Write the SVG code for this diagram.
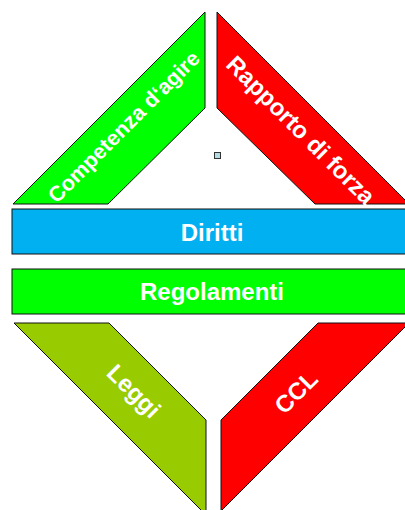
<svg xmlns="http://www.w3.org/2000/svg" width="405" height="510" viewBox="0 0 405 510">
<style>
.shape{stroke:#111;stroke-width:1;stroke-linejoin:miter}
.lbl{font-family:"Liberation Sans",Arial,sans-serif;font-weight:bold;fill:#fff;text-anchor:middle}
</style>
<rect width="405" height="510" fill="#fff"/>
<g id="competenza">
<polygon class="shape" fill="#00FF00" points="13,204 205,12 205,108 108,204"/>
<text class="lbl" font-size="21.5" transform="translate(129,132) rotate(-45)">Competenza d‘agire</text>
</g>
<g id="rapporto">
<polygon class="shape" fill="#FF0000" points="217,12 409,204 315,204 217,108"/>
<text class="lbl" font-size="24" transform="translate(295,136) rotate(45)">Rapporto di forza</text>
</g>
<g id="diritti">
<rect class="shape" fill="#00B0F0" x="12" y="209" width="400" height="45"/>
<text class="lbl" font-size="24" x="212" y="241">Diritti</text>
</g>
<g id="regolamenti">
<rect class="shape" fill="#00FF00" x="12" y="269" width="400" height="45"/>
<text class="lbl" font-size="24" x="212" y="300">Regolamenti</text>
</g>
<g id="leggi">
<polygon class="shape" fill="#99CC00" points="14,323 109,323 206,420 206,515"/>
<text class="lbl" font-size="24" transform="translate(128,397) rotate(45)">Leggi</text>
</g>
<g id="ccl">
<polygon class="shape" fill="#FF0000" points="318,323 409,323 221,511 221,420"/>
<text class="lbl" font-size="24" transform="translate(302,398) rotate(-45)">CCL</text>
</g>
<g id="handle">
<rect x="214.5" y="152.5" width="6" height="6" fill="#B4DCE0" stroke="#333" stroke-width="1"/>
</g>
<g id="connectors"></g>
</svg>
